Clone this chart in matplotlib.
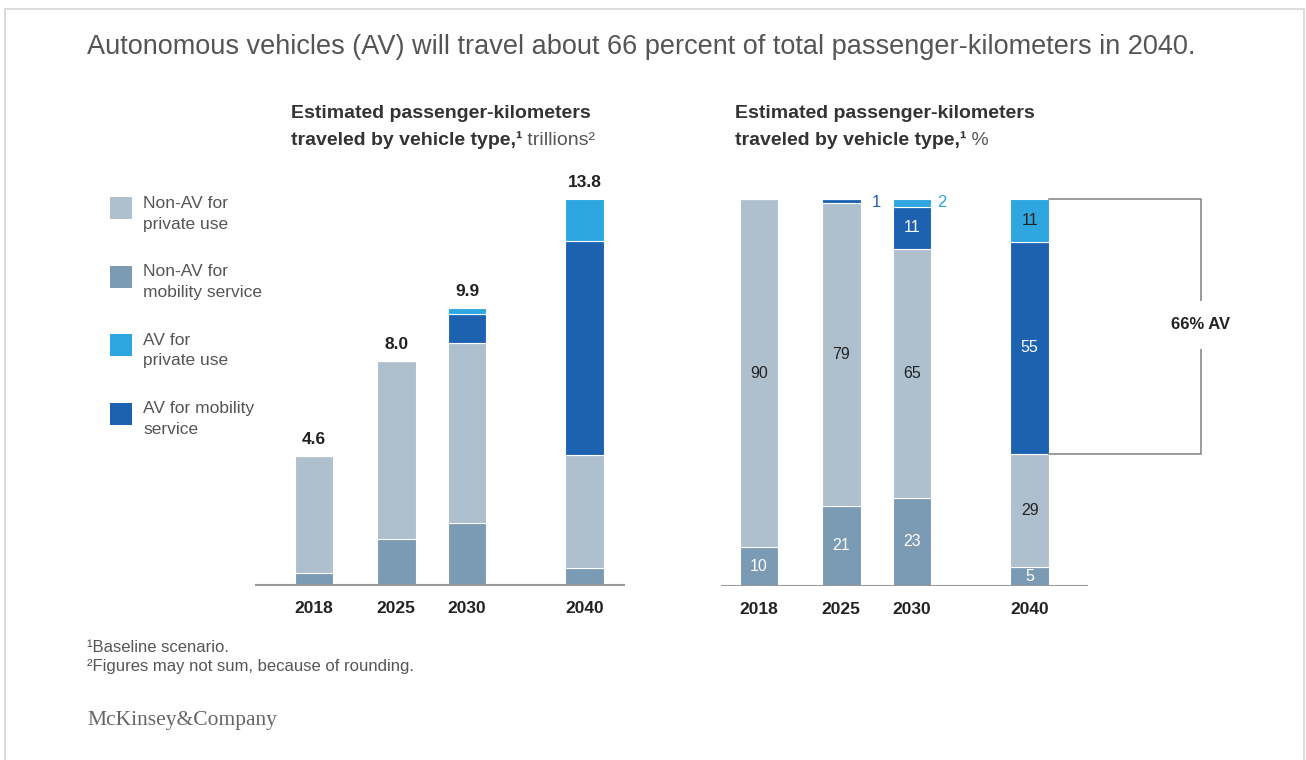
import matplotlib
matplotlib.use("Agg")
import matplotlib.pyplot as plt
from matplotlib.patches import Rectangle
import numpy as np

plt.rcParams['font.family'] = ['Liberation Sans', 'DejaVu Sans']

W, H = 1306, 760

# data
years = ["2018", "2025", "2030", "2040"]
totals = [4.6, 8.0, 9.9, 13.8]
# trillions of passenger-km
nonav_mob_tr = [0.43, 1.65, 2.2, 0.6]
nonav_priv_tr = [4.17, 6.35, 6.45, 4.05]
av_mob_tr = [0.0, 0.0, 1.05, 7.65]
av_priv_tr = [0.0, 0.0, 0.2, 1.5]
# shares in percent (right chart)
nonav_mob_pct = [10, 21, 23, 5]
nonav_priv_pct = [90, 79, 65, 29]
av_mob_pct = [0, 1, 11, 55]
av_priv_pct = [0, 0, 2, 11]
av_share_2040 = 66

legend_labels = [("Non-AV for", "private use"),
                 ("Non-AV for", "mobility service"),
                 ("AV for", "private use"),
                 ("AV for mobility", "service")]

c_nonav_priv = "#aebfcd"
c_nonav_mob = "#7b9ab3"
c_av_priv = "#2ea6e0"
c_av_mob = "#1c62b0"
grey_txt = "#555555"

x_pos = np.array([0, 1.165, 2.17, 3.84])
bw = 0.55


def fx(x):
    return x / W


def fy(y):
    return 1 - y / H


fig = plt.figure(figsize=(W / 100, H / 100), dpi=100)

# light frame round the figure (open at the bottom)
fig.patches.append(Rectangle((fx(5), -0.05), fx(1304) - fx(5), fy(9) + 0.05, transform=fig.transFigure,
                             fill=False, edgecolor="#d6d6d6", linewidth=1.2))

fig.text(fx(87), fy(47), "Autonomous vehicles (AV) will travel about 66 percent of total passenger-kilometers in 2040.",
         fontsize=19.5, color=grey_txt, va="center")

# left chart ---------------------------------------------------------------
unit = 70.5
axl = fig.add_axes([fx(255), fy(585), fx(620) - fx(255), (585 - 170) / H])
axl.set_xlim((255 - 314) / unit, (620 - 314) / unit)
axl.set_ylim(0, 415 / 27.97)
axl.axis("off")

stack_l = [(nonav_mob_tr, c_nonav_mob), (nonav_priv_tr, c_nonav_priv),
           (av_mob_tr, c_av_mob), (av_priv_tr, c_av_priv)]
bottom = np.zeros(4)
for vals, col in stack_l:
    vals = np.array(vals)
    axl.bar(x_pos, vals, bw, bottom=bottom, color=col, edgecolor="white", linewidth=0.8)
    bottom += vals
axl.hlines(0, (255 - 314) / unit, (625 - 314) / unit, color="#9a9a9a", linewidth=1.5, clip_on=False)
for xp, tot in zip(x_pos, totals):
    axl.text(xp, tot + 0.32, f"{tot:.1f}", ha="center", va="bottom", fontsize=12.5,
             fontweight="bold", color="#222222")
for xp, yr in zip(x_pos, years):
    axl.text(xp, -0.85, yr, ha="center", va="center", fontsize=12.5, fontweight="bold", color="#222222")

# right chart --------------------------------------------------------------
axr = fig.add_axes([fx(720), fy(586), fx(1250) - fx(720), (586 - 170) / H])
axr.set_xlim((720 - 759) / unit, (1250 - 759) / unit)
axr.set_ylim(0, 416 / 3.87)
axr.axis("off")

pct = np.array([nonav_mob_pct, nonav_priv_pct, av_mob_pct, av_priv_pct], dtype=float)
shares = pct / pct.sum(axis=0) * 100
cols = [c_nonav_mob, c_nonav_priv, c_av_mob, c_av_priv]
txt_cols = ["white", "#222222", "white", "#222222"]
bottom = np.zeros(4)
for k in range(4):
    axr.bar(x_pos, shares[k], bw, bottom=bottom, color=cols[k], edgecolor="white", linewidth=0.8)
    for i in range(4):
        if pct[k, i] >= 5:
            axr.text(x_pos[i], bottom[i] + shares[k, i] / 2, f"{int(pct[k, i])}", ha="center",
                     va="center", fontsize=11.5, color=txt_cols[k])
    bottom += shares[k]
axr.hlines(0, (721 - 759) / unit, (1088 - 759) / unit, color="#9a9a9a", linewidth=1.5)

# small shares labelled beside the bar top
axr.text(x_pos[1] + bw / 2 + 0.22, 99.2, f"{av_mob_pct[1]}", ha="center", va="center",
         fontsize=12, color=c_av_mob)
axr.text(x_pos[2] + bw / 2 + 0.15, 99.2, f"{av_priv_pct[2]}", ha="center", va="center",
         fontsize=12, color=c_av_priv)

for xp, yr in zip(x_pos, years):
    axr.text(xp, -0.85 * 27.97 / 3.87, yr, ha="center", va="center", fontsize=12.5,
             fontweight="bold", color="#222222")

# bracket for AV share in 2040
x_edge = x_pos[3] + bw / 2
x_br = (1201 - 759) / unit
y_top = 100
y_bot = shares[0, 3] + shares[1, 3]
axr.plot([x_edge, x_br, x_br, x_edge], [y_top, y_top, y_bot, y_bot], color="#8a8a8a", linewidth=1.2)
axr.text(x_br, (y_top + y_bot) / 2 + 0.5, f"{av_share_2040}% AV", ha="center", va="center",
         fontsize=12, fontweight="bold", color="#222222",
         bbox=dict(facecolor="white", edgecolor="none", pad=12))

# subtitles
for x0, unit_txt in [(291, " trillions²"), (735, " %")]:
    fig.text(fx(x0), fy(113), "Estimated passenger-kilometers", fontsize=14, fontweight="bold",
             color="#333333", va="center")
    t1 = fig.text(fx(x0), fy(140), "traveled by vehicle type,¹", fontsize=14, fontweight="bold",
                  color="#333333", va="center")
    plt.annotate(unit_txt, xy=(1, 0), xycoords=t1, ha="left", va="bottom", fontsize=14,
                 color=grey_txt, annotation_clip=False)

# legend
sq_tops = [197, 266, 334, 403]
for (l1, l2), top, col in zip(legend_labels, sq_tops, [c_nonav_priv, c_nonav_mob, c_av_priv, c_av_mob]):
    fig.patches.append(Rectangle((fx(110), fy(top + 22)), 22 / W, 22 / H, transform=fig.transFigure,
                                 facecolor=col, edgecolor="none"))
    fig.text(fx(143), fy(top + 6), l1, fontsize=12.5, color=grey_txt, va="center")
    fig.text(fx(143), fy(top + 27), l2, fontsize=12.5, color=grey_txt, va="center")

# footnotes
fig.text(fx(87), fy(647), "¹Baseline scenario.", fontsize=12, color=grey_txt, va="center")
fig.text(fx(87), fy(667), "²Figures may not sum, because of rounding.", fontsize=12, color=grey_txt, va="center")
fig.text(fx(87), fy(720), "McKinsey&Company", fontsize=15.5, color="#666666", va="center",
         family=["Liberation Serif", "DejaVu Serif"])

fig.savefig("out.png", dpi=100)
